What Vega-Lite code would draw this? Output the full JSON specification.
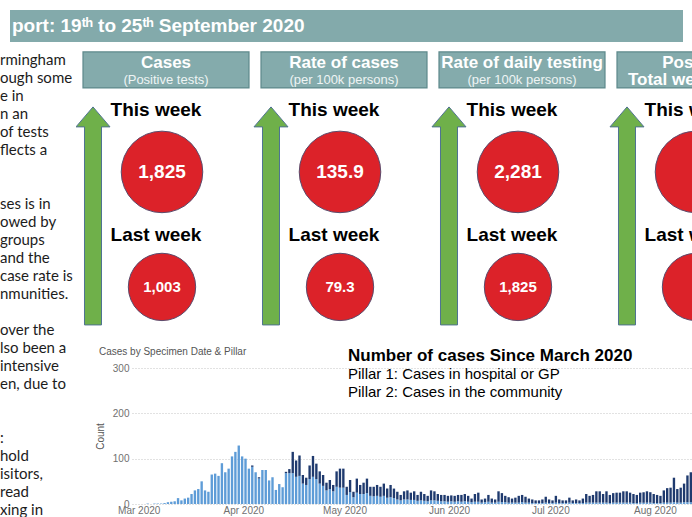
{
  "$schema": "https://vega.github.io/schema/vega-lite/v6.json",
  "padding": {"top": 10, "left": 0, "right": 0, "bottom": 0},
  "background": "white",
  "config": {"view": {"stroke": null}, "font": "Liberation Sans"},
  "datasets": {
    "metrics": [
      {"metric": "Cases", "title": "Cases", "sub": "(Positive tests)"},
      {"metric": "Rate of cases", "title": "Rate of cases", "sub": "(per 100k persons)"},
      {"metric": "Rate of daily testing", "title": "Rate of daily testing", "sub": "(per 100k persons)"},
      {"metric": "Positivity", "title": "Positivity", "sub": "Total weekly tests"}
    ],
    "values": [
      {"metric": "Cases", "week": "This week", "value": 1825},
      {"metric": "Cases", "week": "Last week", "value": 1003},
      {"metric": "Rate of cases", "week": "This week", "value": 135.9},
      {"metric": "Rate of cases", "week": "Last week", "value": 79.3},
      {"metric": "Rate of daily testing", "week": "This week", "value": 2281},
      {"metric": "Rate of daily testing", "week": "Last week", "value": 1825},
      {"metric": "Positivity", "week": "This week", "value": null},
      {"metric": "Positivity", "week": "Last week", "value": null}
    ],
    "body": [
      {"line": 1, "text": "\u00a0\u00a0\u00a0\u00a0rmingham"},
      {"line": 2, "text": "\u00a0\u00a0\u00a0ough some"},
      {"line": 3, "text": "\u00a0\u00a0\u00a0e in"},
      {"line": 4, "text": "n an"},
      {"line": 5, "text": "\u00a0\u00a0\u00a0of tests"},
      {"line": 6, "text": "\u00a0\u00a0\u00a0flects a"},
      {"line": 7, "text": ""},
      {"line": 8, "text": ""},
      {"line": 9, "text": "ses is in"},
      {"line": 10, "text": "owed by"},
      {"line": 11, "text": "\u00a0\u00a0\u00a0groups"},
      {"line": 12, "text": "\u00a0\u00a0\u00a0and the"},
      {"line": 13, "text": "case rate is"},
      {"line": 14, "text": "nmunities."},
      {"line": 15, "text": ""},
      {"line": 16, "text": "\u00a0\u00a0\u00a0over the"},
      {"line": 17, "text": "lso been a"},
      {"line": 18, "text": "\u00a0\u00a0\u00a0intensive"},
      {"line": 19, "text": "en, due to"},
      {"line": 20, "text": ""},
      {"line": 21, "text": ""},
      {"line": 22, "text": "\u00a0\u00a0\u00a0:"},
      {"line": 23, "text": "hold"},
      {"line": 24, "text": "isitors,"},
      {"line": 25, "text": "read"},
      {"line": 26, "text": "xing in"}
    ],
    "cases": [
      {"date": "2020-03-01", "Pillar 1": 0, "Pillar 2": 0},
      {"date": "2020-03-02", "Pillar 1": 0, "Pillar 2": 0},
      {"date": "2020-03-03", "Pillar 1": 1, "Pillar 2": 0},
      {"date": "2020-03-04", "Pillar 1": 0, "Pillar 2": 0},
      {"date": "2020-03-05", "Pillar 1": 1, "Pillar 2": 0},
      {"date": "2020-03-06", "Pillar 1": 1, "Pillar 2": 0},
      {"date": "2020-03-07", "Pillar 1": 1, "Pillar 2": 0},
      {"date": "2020-03-08", "Pillar 1": 2, "Pillar 2": 0},
      {"date": "2020-03-09", "Pillar 1": 4, "Pillar 2": 0},
      {"date": "2020-03-10", "Pillar 1": 5, "Pillar 2": 0},
      {"date": "2020-03-11", "Pillar 1": 6, "Pillar 2": 0},
      {"date": "2020-03-12", "Pillar 1": 13, "Pillar 2": 0},
      {"date": "2020-03-13", "Pillar 1": 8, "Pillar 2": 0},
      {"date": "2020-03-14", "Pillar 1": 12, "Pillar 2": 0},
      {"date": "2020-03-15", "Pillar 1": 14, "Pillar 2": 0},
      {"date": "2020-03-16", "Pillar 1": 22, "Pillar 2": 0},
      {"date": "2020-03-17", "Pillar 1": 30, "Pillar 2": 0},
      {"date": "2020-03-18", "Pillar 1": 33, "Pillar 2": 0},
      {"date": "2020-03-19", "Pillar 1": 50, "Pillar 2": 0},
      {"date": "2020-03-20", "Pillar 1": 30, "Pillar 2": 0},
      {"date": "2020-03-21", "Pillar 1": 27, "Pillar 2": 0},
      {"date": "2020-03-22", "Pillar 1": 65, "Pillar 2": 0},
      {"date": "2020-03-23", "Pillar 1": 67, "Pillar 2": 0},
      {"date": "2020-03-24", "Pillar 1": 62, "Pillar 2": 0},
      {"date": "2020-03-25", "Pillar 1": 90, "Pillar 2": 0},
      {"date": "2020-03-26", "Pillar 1": 70, "Pillar 2": 0},
      {"date": "2020-03-27", "Pillar 1": 78, "Pillar 2": 0},
      {"date": "2020-03-28", "Pillar 1": 105, "Pillar 2": 0},
      {"date": "2020-03-29", "Pillar 1": 115, "Pillar 2": 0},
      {"date": "2020-03-30", "Pillar 1": 129, "Pillar 2": 0},
      {"date": "2020-03-31", "Pillar 1": 105, "Pillar 2": 0},
      {"date": "2020-04-01", "Pillar 1": 100, "Pillar 2": 0},
      {"date": "2020-04-02", "Pillar 1": 78, "Pillar 2": 0},
      {"date": "2020-04-03", "Pillar 1": 82, "Pillar 2": 3},
      {"date": "2020-04-04", "Pillar 1": 70, "Pillar 2": 0},
      {"date": "2020-04-05", "Pillar 1": 56, "Pillar 2": 3},
      {"date": "2020-04-06", "Pillar 1": 75, "Pillar 2": 0},
      {"date": "2020-04-07", "Pillar 1": 75, "Pillar 2": 0},
      {"date": "2020-04-08", "Pillar 1": 52, "Pillar 2": 0},
      {"date": "2020-04-09", "Pillar 1": 59, "Pillar 2": 0},
      {"date": "2020-04-10", "Pillar 1": 31, "Pillar 2": 0},
      {"date": "2020-04-11", "Pillar 1": 44, "Pillar 2": 0},
      {"date": "2020-04-12", "Pillar 1": 37, "Pillar 2": 0},
      {"date": "2020-04-13", "Pillar 1": 68, "Pillar 2": 3},
      {"date": "2020-04-14", "Pillar 1": 68, "Pillar 2": 9},
      {"date": "2020-04-15", "Pillar 1": 68, "Pillar 2": 47},
      {"date": "2020-04-16", "Pillar 1": 60, "Pillar 2": 36},
      {"date": "2020-04-17", "Pillar 1": 62, "Pillar 2": 45},
      {"date": "2020-04-18", "Pillar 1": 45, "Pillar 2": 19},
      {"date": "2020-04-19", "Pillar 1": 42, "Pillar 2": 16},
      {"date": "2020-04-20", "Pillar 1": 55, "Pillar 2": 30},
      {"date": "2020-04-21", "Pillar 1": 60, "Pillar 2": 46},
      {"date": "2020-04-22", "Pillar 1": 55, "Pillar 2": 34},
      {"date": "2020-04-23", "Pillar 1": 45, "Pillar 2": 27},
      {"date": "2020-04-24", "Pillar 1": 40, "Pillar 2": 24},
      {"date": "2020-04-25", "Pillar 1": 30, "Pillar 2": 17},
      {"date": "2020-04-26", "Pillar 1": 33, "Pillar 2": 20},
      {"date": "2020-04-27", "Pillar 1": 28, "Pillar 2": 14},
      {"date": "2020-04-28", "Pillar 1": 38, "Pillar 2": 34},
      {"date": "2020-04-29", "Pillar 1": 36, "Pillar 2": 42},
      {"date": "2020-04-30", "Pillar 1": 36, "Pillar 2": 42},
      {"date": "2020-05-01", "Pillar 1": 20, "Pillar 2": 18},
      {"date": "2020-05-02", "Pillar 1": 26, "Pillar 2": 27},
      {"date": "2020-05-03", "Pillar 1": 15, "Pillar 2": 12},
      {"date": "2020-05-04", "Pillar 1": 25, "Pillar 2": 31},
      {"date": "2020-05-05", "Pillar 1": 22, "Pillar 2": 20},
      {"date": "2020-05-06", "Pillar 1": 22, "Pillar 2": 25},
      {"date": "2020-05-07", "Pillar 1": 24, "Pillar 2": 32},
      {"date": "2020-05-08", "Pillar 1": 18, "Pillar 2": 20},
      {"date": "2020-05-09", "Pillar 1": 17, "Pillar 2": 21},
      {"date": "2020-05-10", "Pillar 1": 18, "Pillar 2": 24},
      {"date": "2020-05-11", "Pillar 1": 16, "Pillar 2": 22},
      {"date": "2020-05-12", "Pillar 1": 18, "Pillar 2": 27},
      {"date": "2020-05-13", "Pillar 1": 14, "Pillar 2": 20},
      {"date": "2020-05-14", "Pillar 1": 15, "Pillar 2": 27},
      {"date": "2020-05-15", "Pillar 1": 13, "Pillar 2": 21},
      {"date": "2020-05-16", "Pillar 1": 10, "Pillar 2": 17},
      {"date": "2020-05-17", "Pillar 1": 8, "Pillar 2": 12},
      {"date": "2020-05-18", "Pillar 1": 10, "Pillar 2": 18},
      {"date": "2020-05-19", "Pillar 1": 10, "Pillar 2": 20},
      {"date": "2020-05-20", "Pillar 1": 9, "Pillar 2": 16},
      {"date": "2020-05-21", "Pillar 1": 9, "Pillar 2": 19},
      {"date": "2020-05-22", "Pillar 1": 7, "Pillar 2": 13},
      {"date": "2020-05-23", "Pillar 1": 8, "Pillar 2": 19},
      {"date": "2020-05-24", "Pillar 1": 7, "Pillar 2": 15},
      {"date": "2020-05-25", "Pillar 1": 6, "Pillar 2": 12},
      {"date": "2020-05-26", "Pillar 1": 8, "Pillar 2": 22},
      {"date": "2020-05-27", "Pillar 1": 8, "Pillar 2": 20},
      {"date": "2020-05-28", "Pillar 1": 7, "Pillar 2": 15},
      {"date": "2020-05-29", "Pillar 1": 6, "Pillar 2": 14},
      {"date": "2020-05-30", "Pillar 1": 6, "Pillar 2": 14},
      {"date": "2020-05-31", "Pillar 1": 5, "Pillar 2": 13},
      {"date": "2020-06-01", "Pillar 1": 6, "Pillar 2": 13},
      {"date": "2020-06-02", "Pillar 1": 5, "Pillar 2": 13},
      {"date": "2020-06-03", "Pillar 1": 6, "Pillar 2": 14},
      {"date": "2020-06-04", "Pillar 1": 5, "Pillar 2": 15},
      {"date": "2020-06-05", "Pillar 1": 6, "Pillar 2": 16},
      {"date": "2020-06-06", "Pillar 1": 5, "Pillar 2": 13},
      {"date": "2020-06-07", "Pillar 1": 4, "Pillar 2": 8},
      {"date": "2020-06-08", "Pillar 1": 5, "Pillar 2": 17},
      {"date": "2020-06-09", "Pillar 1": 5, "Pillar 2": 20},
      {"date": "2020-06-10", "Pillar 1": 3, "Pillar 2": 7},
      {"date": "2020-06-11", "Pillar 1": 4, "Pillar 2": 8},
      {"date": "2020-06-12", "Pillar 1": 5, "Pillar 2": 15},
      {"date": "2020-06-13", "Pillar 1": 3, "Pillar 2": 9},
      {"date": "2020-06-14", "Pillar 1": 3, "Pillar 2": 7},
      {"date": "2020-06-15", "Pillar 1": 5, "Pillar 2": 23},
      {"date": "2020-06-16", "Pillar 1": 4, "Pillar 2": 20},
      {"date": "2020-06-17", "Pillar 1": 4, "Pillar 2": 14},
      {"date": "2020-06-18", "Pillar 1": 3, "Pillar 2": 12},
      {"date": "2020-06-19", "Pillar 1": 3, "Pillar 2": 9},
      {"date": "2020-06-20", "Pillar 1": 3, "Pillar 2": 11},
      {"date": "2020-06-21", "Pillar 1": 3, "Pillar 2": 15},
      {"date": "2020-06-22", "Pillar 1": 4, "Pillar 2": 16},
      {"date": "2020-06-23", "Pillar 1": 3, "Pillar 2": 13},
      {"date": "2020-06-24", "Pillar 1": 3, "Pillar 2": 9},
      {"date": "2020-06-25", "Pillar 1": 2, "Pillar 2": 8},
      {"date": "2020-06-26", "Pillar 1": 2, "Pillar 2": 6},
      {"date": "2020-06-27", "Pillar 1": 2, "Pillar 2": 6},
      {"date": "2020-06-28", "Pillar 1": 2, "Pillar 2": 8},
      {"date": "2020-06-29", "Pillar 1": 3, "Pillar 2": 13},
      {"date": "2020-06-30", "Pillar 1": 2, "Pillar 2": 8},
      {"date": "2020-07-01", "Pillar 1": 2, "Pillar 2": 6},
      {"date": "2020-07-02", "Pillar 1": 3, "Pillar 2": 15},
      {"date": "2020-07-03", "Pillar 1": 2, "Pillar 2": 8},
      {"date": "2020-07-04", "Pillar 1": 2, "Pillar 2": 6},
      {"date": "2020-07-05", "Pillar 1": 2, "Pillar 2": 6},
      {"date": "2020-07-06", "Pillar 1": 3, "Pillar 2": 11},
      {"date": "2020-07-07", "Pillar 1": 2, "Pillar 2": 6},
      {"date": "2020-07-08", "Pillar 1": 2, "Pillar 2": 8},
      {"date": "2020-07-09", "Pillar 1": 2, "Pillar 2": 6},
      {"date": "2020-07-10", "Pillar 1": 2, "Pillar 2": 10},
      {"date": "2020-07-11", "Pillar 1": 3, "Pillar 2": 19},
      {"date": "2020-07-12", "Pillar 1": 3, "Pillar 2": 15},
      {"date": "2020-07-13", "Pillar 1": 3, "Pillar 2": 17},
      {"date": "2020-07-14", "Pillar 1": 3, "Pillar 2": 25},
      {"date": "2020-07-15", "Pillar 1": 3, "Pillar 2": 25},
      {"date": "2020-07-16", "Pillar 1": 3, "Pillar 2": 19},
      {"date": "2020-07-17", "Pillar 1": 3, "Pillar 2": 25},
      {"date": "2020-07-18", "Pillar 1": 2, "Pillar 2": 18},
      {"date": "2020-07-19", "Pillar 1": 3, "Pillar 2": 21},
      {"date": "2020-07-20", "Pillar 1": 3, "Pillar 2": 22},
      {"date": "2020-07-21", "Pillar 1": 3, "Pillar 2": 22},
      {"date": "2020-07-22", "Pillar 1": 3, "Pillar 2": 25},
      {"date": "2020-07-23", "Pillar 1": 3, "Pillar 2": 25},
      {"date": "2020-07-24", "Pillar 1": 3, "Pillar 2": 22},
      {"date": "2020-07-25", "Pillar 1": 2, "Pillar 2": 20},
      {"date": "2020-07-26", "Pillar 1": 2, "Pillar 2": 18},
      {"date": "2020-07-27", "Pillar 1": 3, "Pillar 2": 22},
      {"date": "2020-07-28", "Pillar 1": 3, "Pillar 2": 23},
      {"date": "2020-07-29", "Pillar 1": 3, "Pillar 2": 25},
      {"date": "2020-07-30", "Pillar 1": 3, "Pillar 2": 23},
      {"date": "2020-07-31", "Pillar 1": 2, "Pillar 2": 20},
      {"date": "2020-08-01", "Pillar 1": 2, "Pillar 2": 18},
      {"date": "2020-08-02", "Pillar 1": 2, "Pillar 2": 16},
      {"date": "2020-08-03", "Pillar 1": 3, "Pillar 2": 27},
      {"date": "2020-08-04", "Pillar 1": 3, "Pillar 2": 32},
      {"date": "2020-08-05", "Pillar 1": 3, "Pillar 2": 33},
      {"date": "2020-08-06", "Pillar 1": 4, "Pillar 2": 54},
      {"date": "2020-08-07", "Pillar 1": 3, "Pillar 2": 30},
      {"date": "2020-08-08", "Pillar 1": 3, "Pillar 2": 33},
      {"date": "2020-08-09", "Pillar 1": 4, "Pillar 2": 41},
      {"date": "2020-08-10", "Pillar 1": 4, "Pillar 2": 59},
      {"date": "2020-08-11", "Pillar 1": 4, "Pillar 2": 66}
    ]
  },
  "bounds": "flush",
  "spacing": 32,
  "vconcat": [
    {
      "bounds": "flush",
      "spacing": 0,
      "hconcat": [
        {"width": 10, "height": 32, "data": {"values": []}, "mark": "point", "encoding": {}},
        {
          "width": 673,
          "height": 32,
          "view": {"fill": "#83aaab", "stroke": null},
          "title": {"text": "port: 19ᵗʰ to 25ᵗʰ September 2020", "orient": "top", "anchor": "start", "frame": "group", "offset": -26, "dx": 2, "fontSize": 19, "fontWeight": "bold", "color": "#ffffff", "font": "Liberation Sans"},
          "data": {"values": []},
          "mark": "point",
          "encoding": {}
        }
      ]
    },
    {
      "bounds": "flush",
      "spacing": 0,
      "hconcat": [
        {
          "width": 76,
          "height": 475,
          "data": {"name": "body"},
          "mark": {"type": "text", "align": "left", "baseline": "middle", "dx": -38, "font": "Lato", "fontSize": 15, "color": "#1c1c1c"},
          "encoding": {
            "y": {"field": "line", "type": "ordinal", "axis": null, "scale": {"type": "point", "padding": 0.694, "align": 0.72}},
            "text": {"field": "text", "type": "nominal"}
          }
        },
        {
          "bounds": "flush",
          "spacing": 28,
          "vconcat": [
            {
              "width": 616,
              "height": 298,
              "encoding": {
                "x": {"field": "metric", "type": "nominal", "axis": null,
                      "scale": {"domain": ["Cases", "Rate of cases", "Rate of daily testing", "Positivity"], "range": [1, 713], "paddingInner": 0.0674, "paddingOuter": 0.0337}}
              },
              "layer": [
                {
                  "data": {"name": "metrics"},
                  "mark": {"type": "point", "shape": "M-1,-0.217L1,-0.217L1,0.217L-1,0.217Z", "size": 27556, "filled": true, "fill": "#84abac", "stroke": "#5d898b", "strokeWidth": 1.2, "opacity": 1, "yOffset": -102, "clip": true},
                  "encoding": {"y": {"datum": "This week", "type": "nominal", "axis": null, "scale": {"type": "point", "domain": ["This week", "Last week"], "padding": 0.7957, "align": 0.71}}}
                },
                {
                  "data": {"name": "metrics"},
                  "mark": {"type": "text", "font": "Liberation Sans", "fontSize": 17, "fontWeight": "bold", "color": "#ffffff", "baseline": "middle", "dy": -109, "clip": true},
                  "encoding": {"y": {"datum": "This week", "type": "nominal"}, "text": {"field": "title", "type": "nominal"}}
                },
                {
                  "data": {"name": "metrics"},
                  "transform": [{"filter": "datum.metric != 'Positivity'"}],
                  "mark": {"type": "text", "font": "Liberation Sans", "fontSize": 13, "color": "#eef4f4", "baseline": "middle", "dy": -92, "clip": true},
                  "encoding": {"y": {"datum": "This week", "type": "nominal"}, "text": {"field": "sub", "type": "nominal"}}
                },
                {
                  "data": {"name": "metrics"},
                  "transform": [{"filter": "datum.metric == 'Positivity'"}],
                  "mark": {"type": "text", "font": "Liberation Sans", "fontSize": 17, "fontWeight": "bold", "color": "#ffffff", "baseline": "middle", "dy": -92, "clip": true},
                  "encoding": {"y": {"datum": "This week", "type": "nominal"}, "text": {"field": "sub", "type": "nominal"}}
                },
                {
                  "data": {"name": "metrics"},
                  "mark": {"type": "point", "shape": "M0,-1L0.156,-0.817L0.078,-0.817L0.078,1L-0.078,1L-0.078,-0.817L-0.156,-0.817Z", "size": 47524, "filled": true, "fill": "#6fb04a", "stroke": "#4f7391", "strokeWidth": 1, "opacity": 1, "xOffset": -73, "yOffset": 44, "clip": true},
                  "encoding": {"y": {"datum": "This week", "type": "nominal"}}
                },
                {
                  "data": {"name": "values"},
                  "transform": [{"filter": "datum.week == 'This week'"}],
                  "mark": {"type": "text", "font": "Liberation Sans", "fontSize": 19, "fontWeight": "bold", "color": "#000000", "baseline": "middle", "dx": -10, "dy": -62, "clip": true},
                  "encoding": {"y": {"field": "week", "type": "nominal"}, "text": {"field": "week", "type": "nominal"}}
                },
                {
                  "data": {"name": "values"},
                  "transform": [{"filter": "datum.week == 'Last week'"}],
                  "mark": {"type": "text", "font": "Liberation Sans", "fontSize": 19, "fontWeight": "bold", "color": "#000000", "baseline": "middle", "dx": -10, "dy": -52, "clip": true},
                  "encoding": {"y": {"field": "week", "type": "nominal"}, "text": {"field": "week", "type": "nominal"}}
                },
                {
                  "data": {"name": "values"},
                  "mark": {"type": "circle", "fill": "#dc2229", "stroke": "#5b4a6b", "strokeWidth": 1, "opacity": 1, "xOffset": -4, "clip": true},
                  "encoding": {
                    "y": {"field": "week", "type": "nominal"},
                    "size": {"field": "week", "type": "ordinal", "scale": {"domain": ["This week", "Last week"], "range": [6648, 4536]}, "legend": null}
                  }
                },
                {
                  "data": {"name": "values"},
                  "transform": [{"filter": "datum.week == 'This week' && isValid(datum.value)"}],
                  "mark": {"type": "text", "font": "Liberation Sans", "fontSize": 19, "fontWeight": "bold", "color": "#ffffff", "baseline": "middle", "dx": -4, "clip": true},
                  "encoding": {"y": {"field": "week", "type": "nominal"}, "text": {"field": "value", "type": "quantitative", "format": ",~f"}}
                },
                {
                  "data": {"name": "values"},
                  "transform": [{"filter": "datum.week == 'Last week' && isValid(datum.value)"}],
                  "mark": {"type": "text", "font": "Liberation Sans", "fontSize": 15, "fontWeight": "bold", "color": "#ffffff", "baseline": "middle", "dx": -4, "clip": true},
                  "encoding": {"y": {"field": "week", "type": "nominal"}, "text": {"field": "value", "type": "quantitative", "format": ",~f"}}
                }
              ]
            },
            {
              "bounds": "flush",
              "spacing": 0,
              "hconcat": [
                {"width": 56, "height": 136, "data": {"values": []}, "mark": "point", "encoding": {}},
                {
                  "width": 560,
                  "height": 136,
                  "title": {"text": "Number of cases Since March 2020", "subtitle": ["Pillar 1: Cases in hospital or GP", "Pillar 2: Cases in the community"], "orient": "top", "anchor": "start", "frame": "group", "offset": -54, "dx": 216, "font": "Liberation Sans", "fontSize": 17, "fontWeight": "bold", "color": "#000000", "subtitleFont": "Liberation Sans", "subtitleFontSize": 15, "subtitleColor": "#000000", "subtitlePadding": 2, "subtitleLineHeight": 18},
                  "layer": [
                    {
                      "data": {"name": "cases"},
                      "transform": [{"fold": ["Pillar 1", "Pillar 2"], "as": ["pillar", "count"]}],
                      "mark": {"type": "bar", "clip": true},
                      "encoding": {
                        "x": {"field": "date", "type": "temporal", "timeUnit": "utcyearmonthdate", "title": null,
                              "scale": {"domain": [{"year": 2020, "month": 2, "date": 28, "utc": true}, {"year": 2020, "month": 8, "date": 12, "utc": true}]},
                              "axis": {"format": "%b %Y", "tickCount": {"interval": "month", "step": 1}, "labelFlush": false, "labelOverlap": false, "ticks": false, "domain": false, "grid": false, "labelColor": "#707070", "labelFontSize": 10, "labelPadding": 1, "labelFont": "Liberation Sans"}},
                        "y": {"field": "count", "type": "quantitative", "stack": "zero", "title": "Count",
                              "scale": {"domain": [0, 300]},
                              "axis": {"values": [0, 100, 200, 300], "grid": true, "gridDash": [1, 2], "gridColor": "#c4c4c4", "ticks": false, "domain": false, "labelColor": "#707070", "labelFontSize": 10, "labelPadding": 3, "labelFont": "Liberation Sans", "titleColor": "#555555", "titleFontSize": 10, "titleFontWeight": "normal", "titleFont": "Liberation Sans", "titlePadding": 7}},
                        "color": {"field": "pillar", "type": "nominal", "scale": {"domain": ["Pillar 1", "Pillar 2"], "range": ["#5e9cd7", "#1f3a6e"]}, "legend": null},
                        "order": {"field": "pillar", "sort": "ascending"}
                      }
                    },
                    {
                      "data": {"values": [{"label": "Cases by Specimen Date & Pillar"}]},
                      "mark": {"type": "text", "align": "left", "baseline": "middle", "font": "Liberation Sans", "fontSize": 10, "color": "#555555"},
                      "encoding": {
                        "x": {"datum": {"year": 2020, "month": 2, "date": 18, "hours": 5, "utc": true}, "type": "temporal"},
                        "y": {"datum": 335, "type": "quantitative"},
                        "text": {"field": "label", "type": "nominal"}
                      }
                    }
                  ]
                }
              ]
            }
          ]
        }
      ]
    }
  ]
}
